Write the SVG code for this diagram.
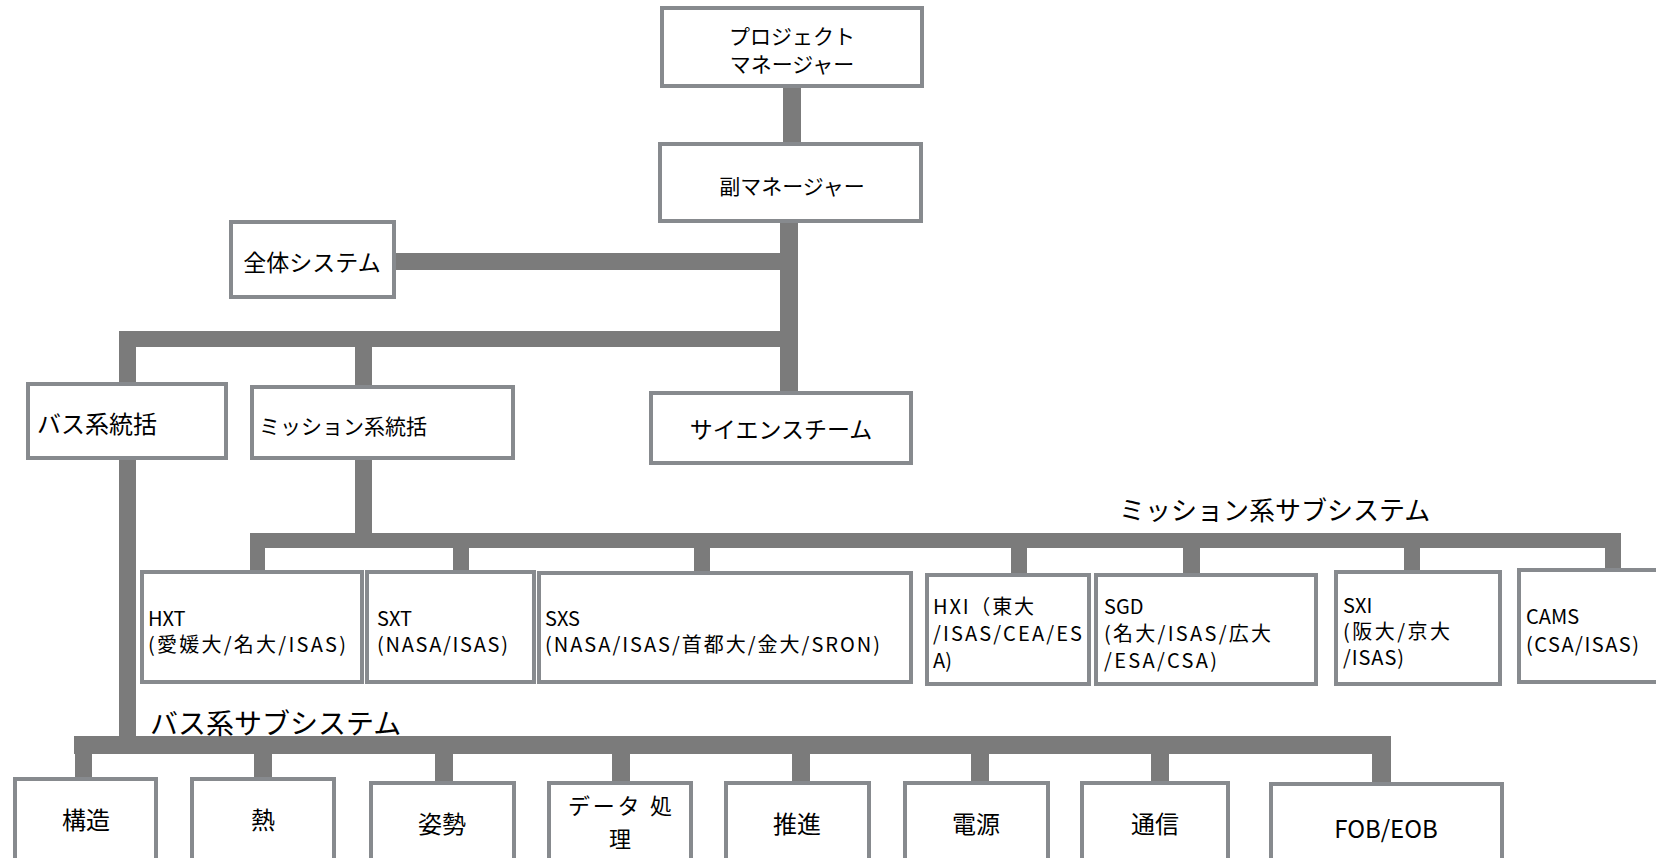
<svg xmlns="http://www.w3.org/2000/svg" width="1656" height="858" viewBox="0 0 1656 858">
<style>
.box{fill:#fff;stroke:#878a8e;stroke-width:4}
.c{fill:#7b7b7b}
text{font-family:"Noto Sans CJK JP","Noto Sans",sans-serif;fill:#000;dominant-baseline:central}
.t{font-size:21px}
.m{font-size:20px}
.b{font-size:24px}
.mid{text-anchor:middle}
</style>
<rect width="1656" height="858" fill="#fff"/>
<g id="connectors">
<rect class="c" x="783" y="86" width="18" height="58"/>
<rect class="c" x="780" y="221" width="18" height="170"/>
<rect class="c" x="396" y="253" width="386" height="17"/>
<rect class="c" x="119" y="331" width="679" height="16"/>
<rect class="c" x="119" y="331" width="17" height="423"/>
<rect class="c" x="355" y="331" width="17" height="216"/>
<rect class="c" x="250" y="533" width="1369" height="15"/>
<rect class="c" x="250" y="533" width="15" height="38"/>
<rect class="c" x="453" y="533" width="16" height="38"/>
<rect class="c" x="694" y="533" width="16" height="38"/>
<rect class="c" x="1011" y="533" width="16" height="40"/>
<rect class="c" x="1183" y="533" width="17" height="40"/>
<rect class="c" x="1404" y="533" width="16" height="38"/>
<rect class="c" x="1605" y="533" width="16" height="36"/>
<rect class="c" x="74" y="736" width="1317" height="18"/>
<rect class="c" x="75" y="736" width="17" height="42"/>
<rect class="c" x="254" y="736" width="18" height="42"/>
<rect class="c" x="435" y="736" width="18" height="45"/>
<rect class="c" x="612" y="736" width="18" height="45"/>
<rect class="c" x="792" y="736" width="18" height="45"/>
<rect class="c" x="971" y="736" width="18" height="45"/>
<rect class="c" x="1151" y="736" width="18" height="45"/>
<rect class="c" x="1372" y="736" width="19" height="47"/>
</g>
<g id="pm"><rect class="box" x="662" y="8" width="260" height="78"/><text class="t mid" x="792" y="35">プロジェクト</text><text class="t mid" x="792" y="63">マネージャー</text></g>
<g id="submgr"><rect class="box" x="660" y="144" width="261" height="77"/><text class="t mid" x="792" y="185">副マネージャー</text></g>
<g id="whole"><rect class="box" x="231" y="222" width="163" height="75"/><text class="mid" style="font-size:23px" x="312" y="261">全体システム</text></g>
<g id="bus"><rect class="box" x="28" y="384" width="198" height="74"/><text class="b" x="37" y="422">バス系統括</text></g>
<g id="mission"><rect class="box" x="252" y="387" width="261" height="71"/><text class="t" x="259" y="425">ミッション系統括</text></g>
<g id="science"><rect class="box" x="651" y="393" width="260" height="70"/><text class="mid" style="font-size:23px" x="781" y="428">サイエンスチーム</text></g>
<text style="font-size:26px" x="1119" y="508">ミッション系サブシステム</text>
<text style="font-size:28px" x="150" y="722">バス系サブシステム</text>
<g id="hxt"><rect class="box" x="142" y="572" width="220" height="110"/><text class="m" x="148" y="617">HXT</text><text class="m" x="148" y="643" textLength="198" lengthAdjust="spacing">(愛媛大/名大/ISAS)</text></g>
<g id="sxt"><rect class="box" x="367" y="572" width="167" height="110"/><text class="m" x="377" y="617">SXT</text><text class="m" x="377" y="643" textLength="131" lengthAdjust="spacing">(NASA/ISAS)</text></g>
<g id="sxs"><rect class="box" x="539" y="573" width="372" height="109"/><text class="m" x="545" y="617">SXS</text><text class="m" x="545" y="643" textLength="335" lengthAdjust="spacing">(NASA/ISAS/首都大/金大/SRON)</text></g>
<g id="hxi"><rect class="box" x="927" y="575" width="162" height="109"/><text class="m" x="933" y="605" textLength="101" lengthAdjust="spacing">HXI（東大</text><text class="m" x="933" y="632" textLength="149" lengthAdjust="spacing">/ISAS/CEA/ES</text><text class="m" x="933" y="659">A)</text></g>
<g id="sgd"><rect class="box" x="1096" y="575" width="220" height="109"/><text class="m" x="1104" y="605">SGD</text><text class="m" x="1104" y="632" textLength="167" lengthAdjust="spacing">(名大/ISAS/広大</text><text class="m" x="1104" y="659" textLength="113" lengthAdjust="spacing">/ESA/CSA)</text></g>
<g id="sxi"><rect class="box" x="1336" y="572" width="164" height="112"/><text class="m" x="1343" y="604">SXI</text><text class="m" x="1343" y="630" textLength="107" lengthAdjust="spacing">(阪大/京大</text><text class="m" x="1343" y="656" textLength="61" lengthAdjust="spacing">/ISAS)</text></g>
<g id="cams"><rect class="box" x="1519" y="570" width="150" height="112"/><text class="m" x="1526" y="615">CAMS</text><text class="m" x="1526" y="643" textLength="113" lengthAdjust="spacing">(CSA/ISAS)</text></g>
<g id="kozo"><rect class="box" x="15" y="779" width="141" height="100"/><text class="b mid" x="86" y="818">構造</text></g>
<g id="netsu"><rect class="box" x="192" y="779" width="142" height="100"/><text class="b mid" x="263" y="818">熱</text></g>
<g id="shisei"><rect class="box" x="371" y="783" width="143" height="100"/><text class="b mid" x="442" y="822">姿勢</text></g>
<g id="data"><rect class="box" x="549" y="783" width="142" height="100"/><text class="mid" style="font-size:22px" x="620" y="804" textLength="104" lengthAdjust="spacing">データ 処</text><text class="mid" style="font-size:22px" x="620" y="837">理</text></g>
<g id="suishin"><rect class="box" x="726" y="783" width="143" height="100"/><text class="b mid" x="797" y="822">推進</text></g>
<g id="dengen"><rect class="box" x="905" y="783" width="143" height="100"/><text class="b mid" x="976" y="822">電源</text></g>
<g id="tsushin"><rect class="box" x="1082" y="783" width="146" height="100"/><text class="b mid" x="1155" y="822">通信</text></g>
<g id="fob"><rect class="box" x="1271" y="784" width="231" height="100"/><text class="b mid" x="1386" y="827">FOB/EOB</text></g>
</svg>
